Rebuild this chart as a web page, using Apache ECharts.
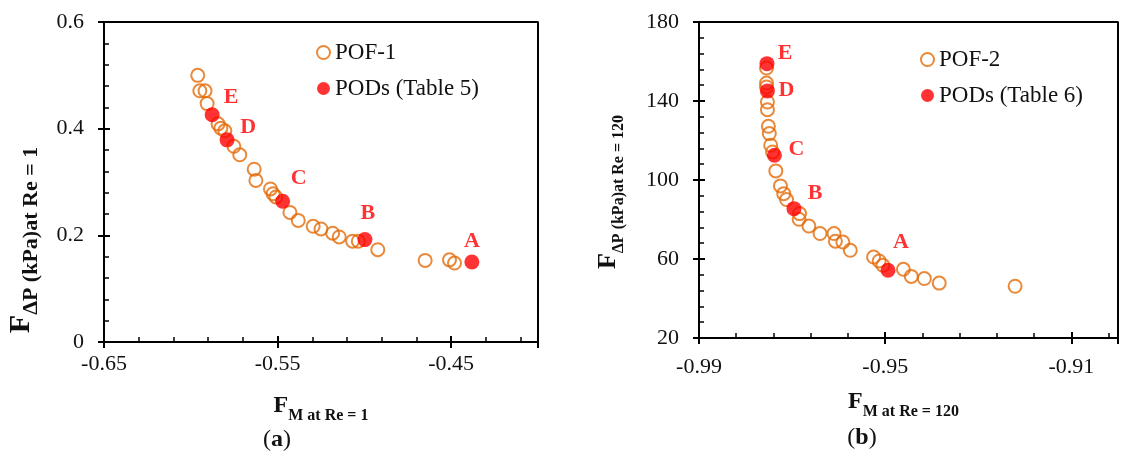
<!DOCTYPE html>
<html>
<head>
<meta charset="utf-8">
<script src="https://cdn.jsdelivr.net/npm/echarts@6/dist/echarts.min.js"></script>
<style>
html,body{margin:0;padding:0;background:#fff;}
#container1{width:1121px;height:459px;}
</style>
</head>
<body>
<div id="container1"></div>
<script>
// panel (a)
var pof1X = [-0.596, -0.5948, -0.5918, -0.5906, -0.5843, -0.5827, -0.5804, -0.5752, -0.5718, -0.5635, -0.5625,
  -0.5541, -0.5526, -0.551, -0.5429, -0.5381, -0.5295, -0.525, -0.5183, -0.5145, -0.5068, -0.5035, -0.4923,
  -0.465, -0.451, -0.4481];
var pof1Y = [0.500, 0.471, 0.471, 0.447, 0.409, 0.401, 0.396, 0.367, 0.351, 0.324, 0.303,
  0.287, 0.278, 0.272, 0.243, 0.228, 0.217, 0.212, 0.204, 0.197, 0.189, 0.189, 0.173,
  0.153, 0.154, 0.148];
var pod1X = [-0.4381, -0.4997, -0.5471, -0.5791, -0.5877];
var pod1Y = [0.150, 0.192, 0.264, 0.379, 0.426];

// panel (b)
var pof2X = [-0.9755, -0.9755, -0.9755, -0.9753, -0.9753, -0.9751, -0.9749, -0.9746, -0.9742, -0.9735, -0.9725,
  -0.9718, -0.9712, -0.9684, -0.9685, -0.9664, -0.964, -0.961, -0.9607, -0.9591, -0.9575, -0.9525, -0.9513,
  -0.9505, -0.9461, -0.9444, -0.9416, -0.9384, -0.9221];
var pof2Y = [156.7, 149.1, 147.1, 139.5, 135.6, 127.2, 123.5, 117.6, 114.2, 104.6, 97.0,
  93.1, 90.1, 83.0, 80.1, 76.7, 72.9, 72.9, 69.0, 68.6, 64.4, 61.0, 59.0,
  56.8, 54.8, 51.2, 50.1, 47.8, 46.2];
var pod2X = [-0.9494, -0.9696, -0.9738, -0.9753, -0.9754];
var pod2Y = [54.3, 85.5, 112.5, 145.1, 158.9];

var podNames = ['A', 'B', 'C', 'D', 'E'];

// axis ranges and tick labels
var xRangeA = [-0.65, -0.40];
var yRangeA = [0, 0.6];
var xRangeB = [-0.99, -0.90];
var yRangeB = [20, 180];
var xTicksA = ['-0.65', '-0.55', '-0.45'];
var yTicksA = ['0', '0.2', '0.4', '0.6'];
var xTicksB = ['-0.99', '-0.95', '-0.91'];
var yTicksB = ['20', '60', '100', '140', '180'];

// label offsets (style only)
var offA = [[0, -21], [3, -26], [16, -23], [21, -13], [19, -17]];
var offB = [[13, -28], [21, -15], [22, -6], [19, -1], [18, -10]];

var serif = '"Liberation Serif", "Times New Roman", serif';
var orange = '#E46C0A';

function pairs(xs, ys) {
  return xs.map(function (x, i) { return [x, ys[i]]; });
}
function podData(xs, ys, offs) {
  return xs.map(function (x, i) {
    return { value: [x, ys[i]], name: podNames[i], label: { offset: offs[i] } };
  });
}
function tickFmt(list) {
  return function (v) {
    var s = String(+v.toFixed(2));
    return list.indexOf(s) >= 0 ? s : '';
  };
}
// left, top and right sides of the plot box, from the axis ranges
function boxPath(xr, yr) {
  return [[xr[0], yr[0]], [xr[0], yr[1]], [xr[1], yr[1]], [xr[1], yr[0]]];
}

var myChart = echarts.init(document.getElementById('container1'));

function mainAxis(grid, range, interval, list, margin, name, nameGap, namePad, fs) {
  return {
    gridIndex: grid, type: 'value', min: range[0], max: range[1], interval: interval,
    axisLine: { show: true, onZero: false, lineStyle: { color: '#000', width: 2 } },
    axisTick: { show: true, inside: true, length: 6, lineStyle: { color: '#000', width: 2 } },
    minorTick: { show: true, splitNumber: 5, length: 5, lineStyle: { color: '#000', width: 1.5 } },
    splitLine: { show: false },
    axisLabel: { formatter: tickFmt(list), color: '#111', fontFamily: serif, fontSize: 22, margin: margin },
    name: name, nameLocation: 'middle', nameGap: nameGap,
    nameRotate: fs.rot ? 90 : 0,
    nameTextStyle: {
      padding: namePad,
      rich: {
        f: { fontFamily: serif, fontWeight: 'bold', fontSize: fs.f, color: '#111', lineHeight: fs.f + 6, verticalAlign: 'top' },
        s: { fontFamily: serif, fontWeight: 'bold', fontSize: fs.s, color: '#111', lineHeight: fs.s + 2, verticalAlign: 'bottom' }
      }
    }
  };
}
// outward half of the crossing major ticks
function tickAxis(grid, range, interval, pos) {
  return {
    gridIndex: grid, type: 'value', min: range[0], max: range[1], interval: interval, position: pos,
    axisLine: { show: false, onZero: false },
    axisTick: { show: true, inside: false, length: 6, lineStyle: { color: '#000', width: 2 } },
    axisLabel: { show: false }, splitLine: { show: false }
  };
}
function boxSeries(name, idx, xr, yr) {
  return {
    name: name, type: 'line', xAxisIndex: idx, yAxisIndex: idx, data: boxPath(xr, yr),
    symbol: 'none', showSymbol: false, silent: true, clip: false, animation: false,
    lineStyle: { color: '#000', width: 2 }, emphasis: { disabled: true }, z: 1
  };
}

var option = {
  animation: false,
  tooltip: { show: false },
  grid: [
    { left: 104, top: 22, width: 434, height: 320 },
    { left: 699, top: 22, width: 428, height: 316 }
  ],
  xAxis: [
    mainAxis(0, xRangeA, 0.1, xTicksA, 11, '{f|F}{s|M at Re = 1}', 52, [0, 0, 0, 0], { f: 24, s: 16 }),
    mainAxis(1, xRangeB, 0.04, xTicksB, 18, '{f|F}{s|M at Re = 120}', 52, [0, 10, 0, 0], { f: 24, s: 16 }),
    tickAxis(0, xRangeA, 0.1, 'bottom'),
    tickAxis(1, xRangeB, 0.04, 'bottom')
  ],
  yAxis: [
    mainAxis(0, yRangeA, 0.2, yTicksA, 20, '{f|F}{s|ΔP (kPa)at Re = 1}', 62, [0, 116, 0, 0], { f: 30, s: 22, rot: true }),
    mainAxis(1, yRangeB, 40, yTicksB, 20, '{f|F}{s|ΔP (kPa)at Re = 120}', 72, [0, 24, 0, 0], { f: 26, s: 16, rot: true }),
    tickAxis(0, yRangeA, 0.2, 'left'),
    tickAxis(1, yRangeB, 40, 'left')
  ],
  legend: [
    {
      data: ['POF-1', 'PODs (Table 5)'], orient: 'vertical', left: 311, top: 36,
      itemWidth: 13, itemHeight: 13, itemGap: 13,
      textStyle: { fontFamily: serif, fontSize: 23, color: '#111' }
    },
    {
      data: ['POF-2', 'PODs (Table 6)'], orient: 'vertical', left: 915, top: 43,
      itemWidth: 13, itemHeight: 13, itemGap: 13,
      textStyle: { fontFamily: serif, fontSize: 23, color: '#111' }
    }
  ],
  graphic: [
    { type: 'text', x: 277, y: 440, style: { text: '{p|(}{b|a}{p|)}', align: 'center', verticalAlign: 'middle',
      rich: { p: { fontFamily: serif, fontSize: 24, fill: '#111' }, b: { fontFamily: serif, fontSize: 24, fontWeight: 'bold', fill: '#111' } } } },
    { type: 'text', x: 862, y: 438, style: { text: '{p|(}{b|b}{p|)}', align: 'center', verticalAlign: 'middle',
      rich: { p: { fontFamily: serif, fontSize: 24, fill: '#111' }, b: { fontFamily: serif, fontSize: 24, fontWeight: 'bold', fill: '#111' } } } }
  ],
  series: [
    boxSeries('boxA', 0, xRangeA, yRangeA),
    boxSeries('boxB', 1, xRangeB, yRangeB),
    {
      name: 'POF-1', type: 'scatter', xAxisIndex: 0, yAxisIndex: 0, data: pairs(pof1X, pof1Y),
      symbol: 'circle', symbolSize: 13,
      itemStyle: { color: 'rgba(255,255,255,0)', borderColor: orange, borderWidth: 2 }
    },
    {
      name: 'PODs (Table 5)', type: 'scatter', xAxisIndex: 0, yAxisIndex: 0, data: podData(pod1X, pod1Y, offA),
      symbol: 'circle', symbolSize: 15, itemStyle: { color: '#FF0000' },
      label: { show: true, position: 'inside', formatter: '{b}', color: '#FF0000', fontFamily: serif, fontWeight: 'bold', fontSize: 22 }
    },
    {
      name: 'POF-2', type: 'scatter', xAxisIndex: 1, yAxisIndex: 1, data: pairs(pof2X, pof2Y),
      symbol: 'circle', symbolSize: 13,
      itemStyle: { color: 'rgba(255,255,255,0)', borderColor: orange, borderWidth: 2 }
    },
    {
      name: 'PODs (Table 6)', type: 'scatter', xAxisIndex: 1, yAxisIndex: 1, data: podData(pod2X, pod2Y, offB),
      symbol: 'circle', symbolSize: 15, itemStyle: { color: '#FF0000' },
      label: { show: true, position: 'inside', formatter: '{b}', color: '#FF0000', fontFamily: serif, fontWeight: 'bold', fontSize: 22 }
    }
  ]
};
myChart.setOption(option);
</script>
</body>
</html>
